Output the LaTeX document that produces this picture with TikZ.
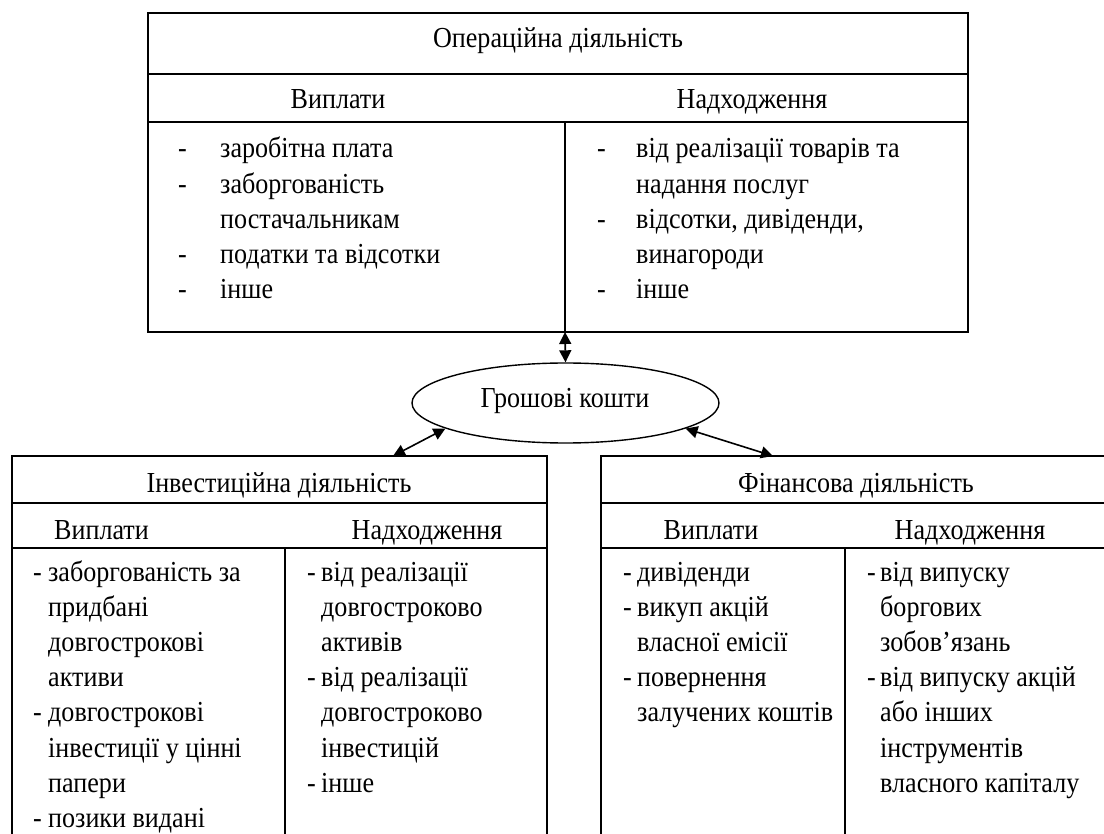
\documentclass[tikz,border=0pt]{standalone}
\usepackage{fontspec}
\setmainfont{Liberation Serif}[FakeStretch=0.9]
\usepackage{array}
\usetikzlibrary{positioning,shapes.geometric,arrows.meta}

\begin{document}
\begin{tikzpicture}[x=1pt,y=-1pt,
                    every node/.style={font=\fontsize{29}{35.2}\selectfont,inner sep=0pt},
                    frame/.style={draw,line width=1.4pt},
                    col/.style={anchor=base west},
                    hd/.style={anchor=base},
                    arr/.style={>={Triangle[length=12pt,width=12pt]},<->,line width=1.6pt}]
  \useasboundingbox (0,0) rectangle (1104,834);
  % operating
  \draw[frame] (148,13) rectangle (968,332);
  \draw[frame] (148,74) -- (968,74) (148,122) -- (968,122) (565,122) -- (565,332);
  \node[hd] (optitle) at (558,48) {Операційна діяльність};
  \node[hd] (opout) at (338,109) {Виплати};
  \node[hd] (opin) at (752,109) {Надходження};
  \node[col] (opoutl) at (178,158) {\begin{tabular}[t]{@{}p{42pt}@{}l@{}}
    -&заробітна плата\\ -&заборгованість\\ &постачальникам\\ -&податки та відсотки\\ -&інше\end{tabular}};
  \node[col] (opinl) at (597,158) {\begin{tabular}[t]{@{}p{39pt}@{}l@{}}
    -&від реалізації товарів та\\ &надання послуг\\ -&відсотки, дивіденди,\\ &винагороди\\ -&інше\end{tabular}};
  % investing
  \draw[frame] (12,860) -- (12,456) -- (547,456) -- (547,860);
  \draw[frame] (12,503) -- (547,503) (12,548) -- (547,548) (285,548) -- (285,860);
  \node[hd] (invtitle) at (279,492) {Інвестиційна діяльність};
  \node[anchor=base west] (invout) at (54,539) {Виплати};
  \node[hd] (invin) at (427,539) {Надходження};
  \node[col] (invoutl) at (33,581) {\begin{tabular}[t]{@{}p{15pt}@{}l@{}}
    -&заборгованість за\\ &придбані\\ &довгострокові\\ &активи\\ -&довгострокові\\ &інвестиції у цінні\\ &папери\\ -&позики видані\end{tabular}};
  \node[col] (invinl) at (307,581) {\begin{tabular}[t]{@{}p{14pt}@{}l@{}}
    -&від реалізації\\ &довгостроково\\ &активів\\ -&від реалізації\\ &довгостроково\\ &інвестицій\\ -&інше\end{tabular}};
  % financing
  \draw[frame] (601,860) -- (601,456) -- (1111,456) -- (1111,860);
  \draw[frame] (601,503) -- (1111,503) (601,548) -- (1111,548) (845,548) -- (845,860);
  \node[hd] (fintitle) at (856,492) {Фінансова діяльність};
  \node[hd] (finout) at (711,539) {Виплати};
  \node[hd] (finin) at (970,539) {Надходження};
  \node[col] (finoutl) at (623,581) {\begin{tabular}[t]{@{}p{14pt}@{}l@{}}
    -&дивіденди\\ -&викуп акцій\\ &власної емісії\\ -&повернення\\ &залучених коштів\end{tabular}};
  \node[col] (fininl) at (867,581) {\begin{tabular}[t]{@{}p{13pt}@{}l@{}}
    -&від випуску\\ &боргових\\ &зобов’язань\\ -&від випуску акцій\\ &або інших\\ &інструментів\\ &власного капіталу\end{tabular}};
  % cash
  \node[ellipse,draw,line width=1.4pt,minimum width=307pt,minimum height=80pt] (cash) at (565.5,403) {};
  \node (cashtxt) at (565,401) {Грошові кошти};
  \coordinate (optop) at (565,332);
  \coordinate (invtop) at (393,456);
  \coordinate (fintop) at (773,456);
  \draw[arr] (optop) -- (cash.north);
  \draw[arr] (cash.192) -- (invtop);
  \draw[arr] (cash.348) -- (fintop);
\end{tikzpicture}
\end{document}
